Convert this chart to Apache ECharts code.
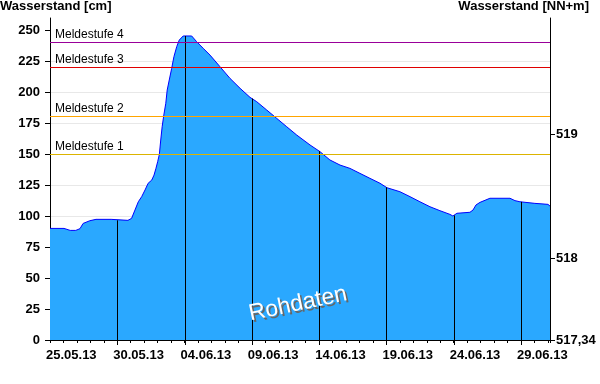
<!DOCTYPE html>
<html><head><meta charset="utf-8">
<script src="https://cdn.jsdelivr.net/npm/echarts@6/dist/echarts.min.js"></script>
<style>html,body{margin:0;padding:0;background:#fff}#c{width:600px;height:384px}</style>
</head><body><div id="c"></div>
<script>
const times = [
'2013-05-25 00:00','2013-05-26 01:00','2013-05-26 12:00','2013-05-26 22:00','2013-05-27 05:30','2013-05-27 11:00',
'2013-05-27 23:00','2013-05-28 10:00','2013-05-29 13:00','2013-05-29 14:30','2013-05-30 19:00','2013-05-31 01:30',
'2013-05-31 07:30','2013-05-31 13:30','2013-05-31 19:30','2013-06-01 01:30','2013-06-01 07:00','2013-06-01 13:30',
'2013-06-01 17:30','2013-06-01 21:00','2013-06-02 00:00','2013-06-02 03:00','2013-06-02 05:30','2013-06-02 08:00',
'2013-06-02 11:00','2013-06-02 14:30','2013-06-02 17:00','2013-06-02 20:40','2013-06-03 01:00','2013-06-03 05:00',
'2013-06-03 10:00','2013-06-03 14:30','2013-06-03 21:30','2013-06-04 12:40','2013-06-04 21:30','2013-06-05 09:20',
'2013-06-05 21:20','2013-06-06 15:10','2013-06-07 09:00','2013-06-08 03:00','2013-06-08 20:40','2013-06-09 08:40',
'2013-06-10 02:30','2013-06-10 20:10','2013-06-11 14:10','2013-06-12 08:00','2013-06-13 07:40','2013-06-14 01:30',
'2013-06-14 19:10','2013-06-15 13:10','2013-06-16 07:00','2013-06-17 00:40','2013-06-17 18:30','2013-06-18 12:30',
'2013-06-19 01:00','2013-06-20 00:00','2013-06-20 18:00','2013-06-21 11:40','2013-06-22 05:30','2013-06-22 23:20',
'2013-06-23 17:20','2013-06-23 22:30','2013-06-24 05:40','2013-06-25 04:50','2013-06-25 10:20','2013-06-25 15:40',
'2013-06-25 22:50','2013-06-26 16:30','2013-06-28 04:20','2013-06-28 13:10','2013-06-28 22:00','2013-06-30 00:40',
'2013-07-01 00:00','2013-07-01 03:40'];
const levels = [
90.0,90.0,88.4,88.4,89.8,94.0,
96.2,97.3,97.3,96.5,96.5,98.1,
104.8,111.5,115.6,121.0,126.4,129.0,
133.0,138.5,143.8,149.7,161.3,172.0,
181.5,190.9,201.6,209.7,219.1,228.5,
236.6,241.9,245.2,245.2,240.6,235.2,
229.8,220.4,211.0,203.0,195.7,192.2,
185.5,178.8,172.0,165.3,157.3,151.9,
145.2,141.1,138.4,134.4,130.4,126.4,
122.8,119.6,115.6,111.5,107.5,104.3,
101.3,100.0,102.2,103.0,104.8,108.9,
111.0,114.3,114.3,112.4,111.5,110.2,
109.4,108.0];
const dropDates = ['2013-05-30 00:00','2013-06-04 00:00','2013-06-09 00:00','2013-06-14 00:00','2013-06-19 00:00','2013-06-24 00:00','2013-06-29 00:00'];
const leftTicks = [0,25,50,75,100,125,150,175,200,225,250];
const rightTicks = [517.34,518,519];
const thresholdNames = ['Meldestufe 1','Meldestufe 2','Meldestufe 3','Meldestufe 4'];
const thresholdValues = [150,180,220,240];
const thresholdColors = ['#dcb400','#ffa500','#e00000','#990099'];
const gaugeZero = 517.34;
const axisStart = '2013-05-25 00:00';
const axisEnd = '2013-07-01 03:40';
const leftMax = 259.7;

function ts(s){const [d,t]=s.split(' ');const [Y,M,D]=d.split('-').map(Number);const [h,m]=t.split(':').map(Number);return Date.UTC(Y,M-1,D,h,m);}
const DAY = 86400000;
const t0 = ts(axisStart), t1 = ts(axisEnd);
const pts = times.map((s,i)=>[ts(s), levels[i]]);
function interp(t){
  for(let i=1;i<pts.length;i++){ if(pts[i][0]>=t){const a=pts[i-1],b=pts[i];return a[1]+(b[1]-a[1])*(t-a[0])/(b[0]-a[0]);} }
  return pts[pts.length-1][1];
}
const drops = dropDates.map(s=>{const t=ts(s);return [t, interp(t)];});
const thresholdData = thresholdValues.map((v,i)=>[t0, v, i]);
const pad=n=>String(n).padStart(2,'0');
const FONT='"Liberation Sans", Arial, sans-serif';

const chart = echarts.init(document.getElementById('c'), null, {renderer:'canvas'});
chart.setOption({
  animation:false,
  backgroundColor:'#fff',
  grid:{left:50,right:50,top:18,bottom:44,containLabel:false},
  xAxis:{type:'value',min:t0,max:t1,interval:DAY,
    axisLine:{lineStyle:{color:'#000',width:1}},
    axisTick:{show:true,length:3,lineStyle:{color:'#000'}},
    splitLine:{show:false},
    axisLabel:{color:'#000',fontWeight:'bold',fontSize:13,fontFamily:FONT,margin:9,align:'left',padding:[0,0,0,-4],
      formatter:v=>{const d=(v-t0)/DAY;const r=Math.round(d);if(Math.abs(d-r)>1e-6||r%5!==0)return '';const dt=new Date(v);return pad(dt.getUTCDate())+'.'+pad(dt.getUTCMonth()+1)+'.'+pad(dt.getUTCFullYear()%100);}}
  },
  yAxis:[{type:'value',position:'left',min:0,max:leftMax,interval:25,
    axisLine:{show:true,lineStyle:{color:'#000'}},
    axisTick:{show:true,length:5,customValues:leftTicks,lineStyle:{color:'#000'}},
    axisLabel:{customValues:leftTicks,color:'#000',fontWeight:'bold',fontSize:13,fontFamily:FONT,margin:10},
    splitLine:{show:true,showMinLine:false,showMaxLine:false,lineStyle:{color:'#e8e8e8',width:1}}
  },{type:'value',position:'right',min:gaugeZero,max:gaugeZero+leftMax/100,
    axisLine:{show:true,lineStyle:{color:'#000'}},
    axisTick:{show:true,length:5,customValues:rightTicks,lineStyle:{color:'#000'}},
    axisLabel:{customValues:rightTicks,color:'#000',fontWeight:'bold',fontSize:13,fontFamily:FONT,margin:6,
      formatter:v=>Number.isInteger(Math.round(v*1000)/1000)?String(Math.round(v)):v.toFixed(2).replace('.',',')},
    splitLine:{show:false}
  }],
  series:[{
    type:'line',data:pts,symbol:'none',showSymbol:false,z:2,
    lineStyle:{color:'#0000ff',width:1},
    areaStyle:{color:'#2aa8ff',opacity:1}
  },{
    type:'custom',data:drops,z:3,silent:true,
    renderItem:(params,api)=>{const t=api.value(0),v=api.value(1);const top=api.coord([t,v]);const base=api.coord([t,0]);
      return {type:'line',shape:{x1:Math.round(top[0])+0.5,y1:top[1],x2:Math.round(base[0])+0.5,y2:base[1]+5},style:{stroke:'#000',lineWidth:1}};}
  },{
    type:'custom',data:thresholdData,z:4,silent:true,
    renderItem:(params,api)=>{const v=api.value(1),i=api.value(2);const p=api.coord([t0,v]);const cs=params.coordSys;
      const y=Math.floor(p[1])+0.5;
      return {type:'group',children:[
        {type:'line',shape:{x1:cs.x,y1:y,x2:cs.x+cs.width,y2:y},style:{stroke:thresholdColors[i],lineWidth:1}},
        {type:'text',x:cs.x+5,y:y-1.5,style:{text:thresholdNames[i],fill:'#000',font:'12px '+FONT,textAlign:'left',textVerticalAlign:'bottom'}}
      ]};}
  }],
  graphic:[
    {type:'text',left:0,top:0,style:{text:'Wasserstand [cm]',fill:'#000',font:'bold 13px '+FONT}},
    {type:'text',right:11,top:0,style:{text:'Wasserstand [NN+m]',fill:'#000',font:'bold 13px '+FONT}},
    {type:'text',x:300,y:306,rotation:0.21,z:10,style:{text:'Rohdaten',fill:'#666',font:'23px '+FONT,align:'center',verticalAlign:'middle'}},
    {type:'text',x:298,y:304,rotation:0.21,z:11,style:{text:'Rohdaten',fill:'#fff',font:'23px '+FONT,align:'center',verticalAlign:'middle'}}
  ]
});
</script></body></html>
